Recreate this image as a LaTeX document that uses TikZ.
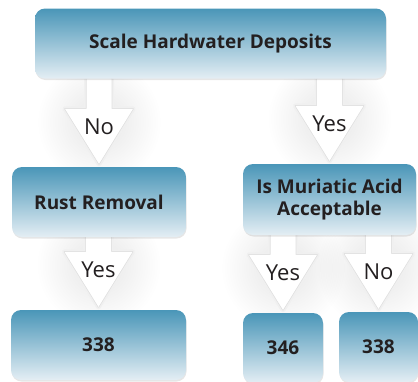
\documentclass[tikz,border=0pt]{standalone}
\usepackage{fontspec}
\setmainfont{Open Sans}
\usepackage{tikz}
\usetikzlibrary{calc,shadows,backgrounds,fadings}
\definecolor{boxtop}{HTML}{4A96B8}
\definecolor{boxbottom}{HTML}{E4EEF4}
\definecolor{inkgray}{HTML}{231F20}
\tikzfading[name=glow,inner color=transparent!0,outer color=transparent!100]

\begin{document}
\begin{tikzpicture}[x=1pt,y=1pt]
 \tikzstyle{flowbox}=[rectangle,rounded corners=10pt,top color=boxtop,bottom color=boxbottom,
   draw=none,text=inkgray,font=\bfseries\fontsize{19}{22.5}\selectfont,align=center,
   minimum height=70pt,drop shadow={shadow xshift=0.5pt,shadow yshift=-1.5pt,opacity=0.2}]
 \tikzstyle{answer}=[text=inkgray,font=\fontsize{22}{26}\selectfont]
 \useasboundingbox (0,0) rectangle (418,-381);
 % decision boxes
 \node (top) [flowbox,minimum width=351pt] at (210.5,-43.5) {Scale Hardwater Deposits};
 \node (rust) [flowbox,minimum width=174pt] at (99,-202) {Rust Removal};
 \node (acid) [flowbox,minimum width=173pt,minimum height=71pt] at (329.5,-199.5)
   {Is Muriatic Acid\\Acceptable};
 % results
 \node (resa) [flowbox,minimum width=175pt] at (98.5,-345) {338};
 \node (resb) [flowbox,minimum width=80pt] at (283,-348) {346};
 \node (resc) [flowbox,minimum width=79pt] at (378.5,-347) {338};
 % block arrows
 \begin{scope}[on background layer]
  \foreach \from/\to in {top/rust,top/acid,rust/resa,acid/resb,acid/resc}
   \fill[black,opacity=0.1,path fading=glow] ($(\to.north)+(0,45)$) circle (62);
  \foreach \from/\to/\ans in {top/rust/No,top/acid/Yes,rust/resa/Yes,acid/resb/Yes,acid/resc/No}{
   \coordinate (tip) at ($(\to.north)+(0,3)$);
   \path[fill=white,draw=black!6,line width=5pt,line join=round]
     ($(\from.south -| tip)+(-12.5,0)$) -- ($(tip)+(-12.5,55)$) -- ($(tip)+(-34,55)$)
     -- (tip) -- ($(tip)+(34,55)$) -- ($(tip)+(12.5,55)$) -- ($(\from.south -| tip)+(12.5,0)$);
   \path[fill=white,draw=black!12,line width=1.5pt,line join=round]
     ($(\from.south -| tip)+(-12.5,0)$) -- ($(tip)+(-12.5,55)$) -- ($(tip)+(-34,55)$)
     -- (tip) -- ($(tip)+(34,55)$) -- ($(tip)+(12.5,55)$) -- ($(\from.south -| tip)+(12.5,0)$);
   \fill[white] ($(\from.south -| tip)+(-12.5,0)$) -- ($(tip)+(-12.5,55)$) -- ($(tip)+(-34,55)$)
     -- (tip) -- ($(tip)+(34,55)$) -- ($(tip)+(12.5,55)$) -- ($(\from.south -| tip)+(12.5,0)$);
   \node (lab\to) [answer] at ($(tip)+(0,37)$) {\ans};
  }
 \end{scope}
\end{tikzpicture}
\end{document}
